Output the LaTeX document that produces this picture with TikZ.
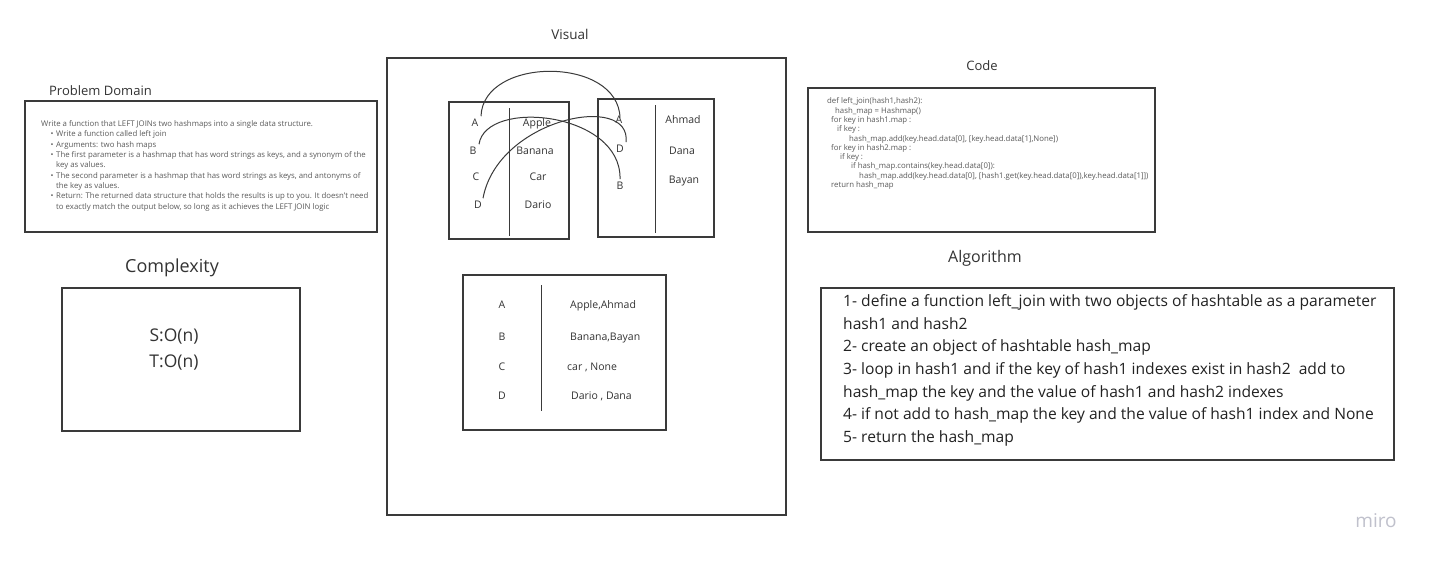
\documentclass[tikz,border=0pt]{standalone}
\usepackage{fontspec}
\setmainfont{Open Sans}
\definecolor{boxc}{HTML}{3A3A3A}
\definecolor{titc}{HTML}{333333}
\definecolor{bodyc}{HTML}{222222}
\definecolor{grayc}{HTML}{5A5A5A}
\definecolor{miroc}{HTML}{C0C1CC}
\begin{document}
\begin{tikzpicture}[x=1pt,y=-1pt,
  frame/.style={draw=boxc,line width=1.3pt},
  divider/.style={draw=boxc,line width=0.9pt},
  arcline/.style={draw=boxc,line width=1pt},
  txt/.style={inner sep=0pt,text height=0.72em,text depth=0pt},
  title/.style={txt,text=titc,font=\fontsize{13}{15}\selectfont},
  small/.style={txt,anchor=west,text=grayc,font=\fontsize{7.8}{9}\selectfont},
  cell/.style={txt,text=titc,font=\fontsize{10.5}{12}\selectfont},
  algo/.style={txt,anchor=west,text=bodyc,font=\fontsize{15.6}{18}\selectfont},
  cplx/.style={txt,text=titc,font=\fontsize{17.5}{20}\selectfont}]
\useasboundingbox (0,0) rectangle (1432,565);
\fill[white] (0,0) rectangle (1432,565);

% ---------- Problem Domain ----------
\node[title] (pdt) at (100.5,92) {Problem Domain};
\draw[frame] (25,101) rectangle (377,232);
\node[small] (pd0) at (41,122.7) {Write a function that LEFT JOINs two hashmaps into a single data structure.};
\node[small] (pb1) at (50.5,133.3) {\textbullet};
\node[small] (pd1) at (56,133.3) {Write a function called left join};
\node[small] (pb2) at (50.5,143.6) {\textbullet};
\node[small] (pd2) at (56,143.6) {Arguments: two hash maps};
\node[small] (pb3) at (50.5,154) {\textbullet};
\node[small] (pd3) at (56,154) {The first parameter is a hashmap that has word strings as keys, and a synonym of the};
\node[small] (pd4) at (56,164.3) {key as values.};
\node[small] (pb5) at (50.5,174.6) {\textbullet};
\node[small] (pd5) at (56,174.6) {The second parameter is a hashmap that has word strings as keys, and antonyms of};
\node[small] (pd6) at (56,184.9) {the key as values.};
\node[small] (pb7) at (50.5,195.2) {\textbullet};
\node[small] (pd7) at (56,195.2) {Return: The returned data structure that holds the results is up to you. It doesn’t need};
\node[small] (pd8) at (56,205.5) {to exactly match the output below, so long as it achieves the LEFT JOIN logic};

% ---------- Complexity ----------
\node[title,font=\fontsize{18}{20}\selectfont] (cxt) at (172,269) {Complexity};
\draw[frame] (62,288) rectangle (300,431);
\node[cplx] (cs) at (174,338) {S:O(n)};
\node[cplx] (ct) at (174,364) {T:O(n)};

% ---------- Visual ----------
\node[title,font=\fontsize{13.5}{15}\selectfont] (vt) at (570,36) {Visual};
\draw[frame] (387,58) rectangle (786,515);

% left hashmap
\draw[frame] (449,102) rectangle (569,239);
\draw[divider] (509,108) -- (509,236);
\node[cell] (lA) at (475,123) {A};
\node[cell] (lB) at (473,151) {B};
\node[cell] (lC) at (476,177) {C};
\node[cell] (lD) at (478,205) {D};
\node[cell] (lv1) at (537,123) {Apple};
\node[cell] (lv2) at (535,151) {Banana};
\node[cell] (lv3) at (538,177) {Car};
\node[cell] (lv4) at (538,205) {Dario};

% right hashmap
\draw[frame] (598,99) rectangle (714,237);
\draw[divider] (655,105) -- (655,233);
\node[cell] (rA) at (619,120) {A};
\node[cell] (rD) at (620,149) {D};
\node[cell] (rB) at (620,186) {B};
\node[cell] (rv1) at (683,120) {Ahmad};
\node[cell] (rv2) at (682,151) {Dana};
\node[cell] (rv3) at (684,180) {Bayan};

% arcs
\draw[arcline] ([shift={(6,-3)}]lA.north) .. controls (483,56) and (619,56) .. ([shift={(1,2)}]rA.north);
\draw[arcline] ([shift={(6,-3)}]lB.north) .. controls (486,98) and (622,112) .. ([shift={(0,-3)}]rB.north);
\draw[arcline] ([shift={(5,-3)}]lD.north) .. controls (498,118) and (632,92) .. ([shift={(6,-3)}]rD.north);

% result table
\draw[frame] (463,275) rectangle (666,430);
\draw[divider] (541,285) -- (541,411);
\node[cell] (oA) at (502,305) {A};
\node[cell] (oB) at (502,337) {B};
\node[cell] (oC) at (502,367) {C};
\node[cell] (oD) at (502,396) {D};
\node[cell,anchor=west] (ov1) at (570,305) {Apple,Ahmad};
\node[cell,anchor=west] (ov2) at (570,337) {Banana,Bayan};
\node[cell,anchor=west] (ov3) at (567,367) {car , None};
\node[cell,anchor=west] (ov4) at (571,396) {Dario , Dana};

% ---------- Code ----------
\node[title] (cdt) at (982,67) {Code};
\draw[frame] (808,88) rectangle (1155,232);
\node[small] (c1) at (827,100) {def left\_join(hash1,hash2):};
\node[small] (c2) at (835,109.5) {hash\_map = Hashmap()};
\node[small] (c3) at (831,119) {for key in hash1.map :};
\node[small] (c4) at (837,128.3) {if key :};
\node[small] (c5) at (849,137.5) {hash\_map.add(key.head.data[0], [key.head.data[1],None])};
\node[small] (c6) at (831,146.7) {for key in hash2.map :};
\node[small] (c7) at (840,156) {if key :};
\node[small] (c8) at (851,165.2) {if hash\_map.contains(key.head.data[0]):};
\node[small] (c9) at (859,174.4) {hash\_map.add(key.head.data[0], [hash1.get(key.head.data[0]),key.head.data[1]])};
\node[small] (c10) at (831,183.7) {return hash\_map};

% ---------- Algorithm ----------
\node[title,font=\fontsize{16}{18}\selectfont] (alt) at (985,259) {Algorithm};
\draw[frame] (821,288) rectangle (1394,460);
\node[algo] (a1) at (843,303) {1- define a function left\_join with two objects of hashtable as a parameter};
\node[algo] (a2) at (843,325.7) {hash1 and hash2};
\node[algo] (a3) at (843,348.3) {2- create an object of hashtable hash\_map};
\node[algo] (a4) at (843,371) {3- loop in hash1 and if the key of hash1 indexes exist in hash2\ \ add to};
\node[algo] (a5) at (843,393.7) {hash\_map the key and the value of hash1 and hash2 indexes};
\node[algo] (a6) at (843,416.3) {4- if not add to hash\_map the key and the value of hash1 index and None};
\node[algo] (a7) at (843,439) {5- return the hash\_map};

% ---------- logo ----------
\node[txt,text=miroc,font=\fontsize{19}{20}\selectfont] (miro) at (1376,524) {miro};
\end{tikzpicture}
\end{document}
